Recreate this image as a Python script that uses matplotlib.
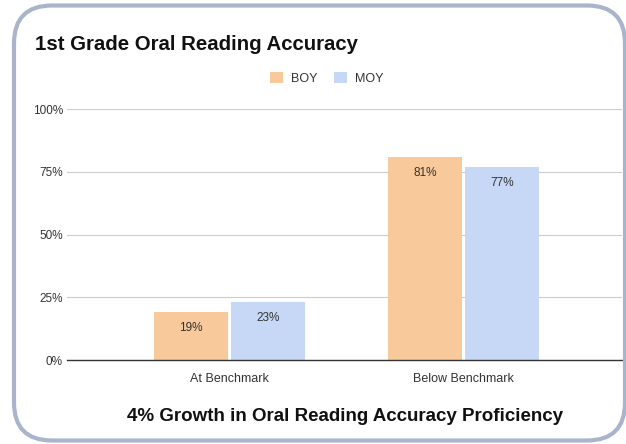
import numpy as np
import matplotlib.pyplot as plt
from matplotlib.patches import FancyBboxPatch

plt.rcParams['font.family'] = ['Liberation Sans', 'DejaVu Sans']

categories = ['At Benchmark', 'Below Benchmark']
boy = [0.19, 0.81]
moy = [0.23, 0.77]
yticks = [0, 0.25, 0.5, 0.75, 1.0]
ytick_labels = ['0%', '25%', '50%', '75%', '100%']

fig = plt.figure(figsize=(6.26, 4.44), dpi=100)
ax = fig.add_axes([0.107, 0.189, 0.887, 0.5655])

x = np.arange(len(categories))
w = 0.316
gap = 0.013
b1 = ax.bar(x - w / 2 - gap / 2, boy, w, color='#f8c99a', label='BOY', zorder=3)
b2 = ax.bar(x + w / 2 + gap / 2, moy, w, color='#c6d8f6', label='MOY', zorder=3)

# value labels inside the top of each bar
for bars, vals in [(b1, boy), (b2, moy)]:
    for b, v in zip(bars, vals):
        ax.annotate(f'{round(v * 100)}%', (b.get_x() + b.get_width() / 2, v),
                    xytext=(0, -11.5), textcoords='offset points',
                    ha='center', va='center', fontsize=8.5, color='#333333', zorder=4)

ax.set_xlim(-0.694, 1.677)
ax.set_ylim(0, 1)
ax.set_yticks(yticks)
ax.set_yticklabels(ytick_labels)
ax.set_xticks(x)
ax.set_xticklabels(categories)
ax.tick_params(axis='both', length=0, labelsize=8.5, labelcolor='#333333')
ax.tick_params(axis='x', pad=9, labelsize=9)
ax.tick_params(axis='y', pad=3)
ax.grid(axis='y', color='#cccccc', linewidth=0.8, zorder=0)
for s in ['top', 'right', 'left']:
    ax.spines[s].set_visible(False)
ax.spines['bottom'].set_color('#333333')
ax.spines['bottom'].set_linewidth(1.0)
ax.spines['bottom'].set_zorder(5)

fig.legend(handles=[b1, b2], loc='center', bbox_to_anchor=(327 / 626, 0.823), ncol=2,
           frameon=False, fontsize=9, handlelength=1.0, handleheight=1.0,
           columnspacing=1.3, handletextpad=0.7, labelcolor='#333333')

fig.text(35 / 626, 1 - 44 / 444, '1st Grade Oral Reading Accuracy',
         fontsize=14.7, fontweight='bold', va='center', ha='left', color='#111111')
fig.text(345 / 626, 1 - 416 / 444, '4% Growth in Oral Reading Accuracy Proficiency',
         fontsize=13.5, fontweight='bold', va='center', ha='center', color='#111111')

# rounded frame (in inches), right edge sitting on the image border
border = FancyBboxPatch((0.14, 0.035), 6.11, 4.35,
                        boxstyle='round,pad=0,rounding_size=0.38',
                        transform=fig.dpi_scale_trans, fill=False,
                        edgecolor='#aab5cc', linewidth=3.0)
fig.patches.append(border)

fig.savefig('out.png', dpi=100)
